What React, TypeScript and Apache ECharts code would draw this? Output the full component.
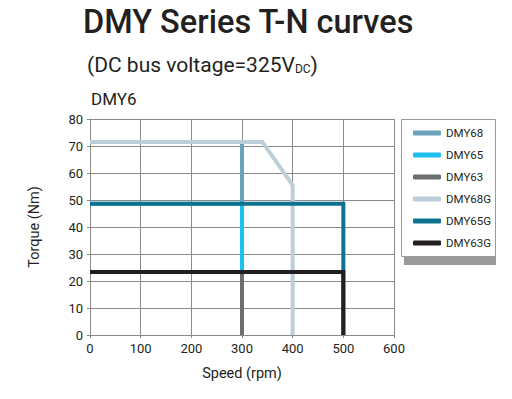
import React, { useEffect, useRef } from "react";
import * as echarts from "echarts";

const seriesNames = ["DMY68", "DMY65", "DMY63", "DMY68G", "DMY65G", "DMY63G"];
const seriesColors = ["#6aa2bd", "#1ec1ee", "#6d6e70", "#bccfd9", "#0d7290", "#231f20"];
const dmy68: number[][] = [[0, 71.5], [300, 71.5], [300, 0]];
const dmy65: number[][] = [[0, 48.6], [300, 48.6], [300, 0]];
const dmy63: number[][] = [[0, 23.3], [300, 23.3], [300, 0]];
const dmy68g: number[][] = [[0, 71.5], [340, 71.5], [400, 55.5], [400, 0]];
const dmy65g: number[][] = [[0, 48.6], [500, 48.6], [500, 0]];
const dmy63g: number[][] = [[0, 23.3], [500, 23.3], [500, 0]];
const seriesData = [dmy68, dmy65, dmy63, dmy68g, dmy65g, dmy63g];

const FONT = "Roboto, 'Noto Sans', sans-serif";

export default function App() {
  const ref = useRef<HTMLDivElement>(null);
  useEffect(() => {
    if (!ref.current) return;
    const chart = echarts.init(ref.current, null, { renderer: "svg" });
    chart.setOption({
      animation: false,
      backgroundColor: "#ffffff",
      textStyle: { fontFamily: FONT },
      graphic: [
        {
          type: "text",
          left: 83,
          top: 5,
          style: { text: "DMY Series T-N curves", font: `500 32.5px ${FONT}`, fill: "#231f20" },
        },
        {
          type: "text",
          left: 87,
          top: 54,
          style: {
            text: "(DC bus voltage=325V{s|DC})",
            font: `400 21px ${FONT}`,
            fill: "#231f20",
            rich: { s: { fontSize: 12, fontFamily: FONT, fill: "#231f20", padding: [8, 0, 0, 0] } },
          },
        },
        {
          type: "text",
          left: 91,
          top: 90,
          style: { text: "DMY6", font: `400 17px ${FONT}`, fill: "#231f20" },
        },
        {
          type: "rect",
          shape: { x: 404, y: 127, width: 92, height: 138 },
          style: { fill: "#9a9a9c" },
          z: 1,
        },
        {
          type: "rect",
          shape: { x: 401.5, y: 119.5, width: 94, height: 137 },
          style: { fill: "#ffffff", stroke: "#9a9a9a", lineWidth: 1 },
          z: 2,
        },
      ],
      legend: {
        orient: "vertical",
        left: 413,
        top: 126,
        padding: 0,
        itemWidth: 28,
        itemHeight: 5,
        itemGap: 8,
        icon: "roundRect",
        z: 10,
        textStyle: { fontSize: 11.5, color: "#231f20", lineHeight: 14, fontFamily: FONT },
        data: seriesNames,
      },
      grid: { left: 90, right: 118, top: 119, bottom: 64, containLabel: false },
      xAxis: {
        type: "value",
        min: 0,
        max: 600,
        interval: 100,
        name: "Speed (rpm)",
        nameLocation: "middle",
        nameGap: 31,
        nameTextStyle: { fontSize: 14.5, color: "#231f20", fontFamily: FONT },
        axisLine: { show: true, lineStyle: { color: "#8a8a8a", width: 1 } },
        axisTick: { show: true, length: 3, lineStyle: { color: "#8a8a8a" } },
        axisLabel: { fontSize: 13, color: "#231f20", margin: 7, fontFamily: FONT },
        splitLine: { show: true, lineStyle: { color: "#8a8a8a", width: 1 } },
      },
      yAxis: {
        type: "value",
        min: 0,
        max: 80,
        interval: 10,
        name: "Torque (Nm)",
        nameLocation: "middle",
        nameGap: 48,
        nameTextStyle: { fontSize: 14.5, color: "#231f20", fontFamily: FONT },
        axisLine: { show: true, lineStyle: { color: "#8a8a8a", width: 1 } },
        axisTick: { show: true, length: 3, lineStyle: { color: "#8a8a8a" } },
        axisLabel: { fontSize: 13, color: "#231f20", margin: 7, fontFamily: FONT },
        splitLine: { show: true, lineStyle: { color: "#8a8a8a", width: 1 } },
      },
      series: seriesNames.map((name, i) => ({
        name,
        type: "line",
        data: seriesData[i],
        symbol: "none",
        showSymbol: false,
        color: seriesColors[i],
        lineStyle: { color: seriesColors[i], width: 4, join: "miter" },
        z: 3 + i,
      })),
    });
    return () => chart.dispose();
  }, []);
  return <div ref={ref} style={{ width: 512, height: 399, position: "absolute", left: 0, top: 0 }} />;
}
